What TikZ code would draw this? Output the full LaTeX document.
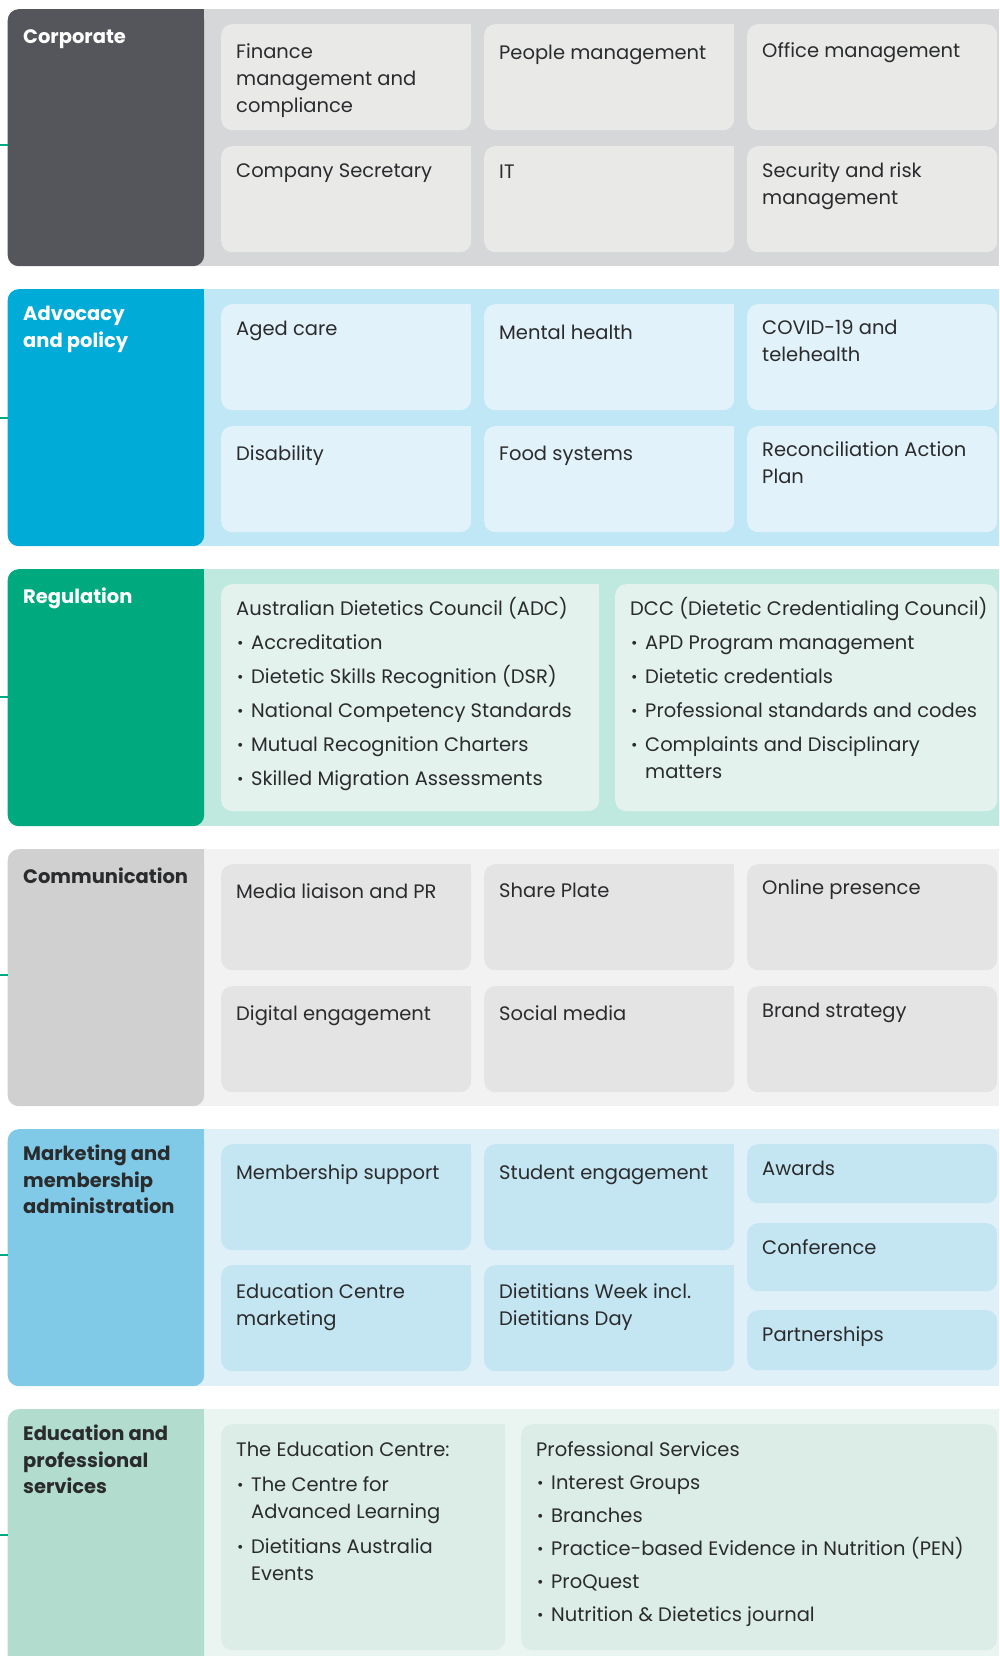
\documentclass[tikz,border=0pt]{standalone}
\usepackage{fontspec}
\setmainfont{Poppins}
\usepackage{graphicx}

\definecolor{ink}{HTML}{2A2B2D}
\definecolor{stubline}{HTML}{00A884}
\definecolor{corhead}{HTML}{55565B}
\definecolor{corpanel}{HTML}{D6D7D9}
\definecolor{cortile}{HTML}{E9EAE8}
\definecolor{advhead}{HTML}{00ABD8}
\definecolor{advpanel}{HTML}{BFE7F5}
\definecolor{advtile}{HTML}{E2F2FA}
\definecolor{reghead}{HTML}{00A97E}
\definecolor{regpanel}{HTML}{BFE8DF}
\definecolor{regtile}{HTML}{E4F2EE}
\definecolor{comhead}{HTML}{D0D0D0}
\definecolor{companel}{HTML}{F2F2F2}
\definecolor{comtile}{HTML}{E4E4E4}
\definecolor{mkthead}{HTML}{80CAE8}
\definecolor{mktpanel}{HTML}{DFF0F8}
\definecolor{mkttile}{HTML}{C4E5F2}
\definecolor{eduhead}{HTML}{B2DCCE}
\definecolor{edupanel}{HTML}{EAF5F2}
\definecolor{edutile}{HTML}{DCEDE7}

\newcommand{\dotitem}{\makebox[15pt][l]{\hspace{1pt}\raisebox{1pt}{\scalebox{0.8}{\textbullet}}}}

\begin{document}
\begin{tikzpicture}[x=1pt,y=-1pt,
	tile/.style={fill=#1, rounded corners=11pt, inner sep=0pt, anchor=north west},
	leaf/.style={tile=#1, append after command={\pgfextra{\fill[#1, sharp corners] (\tikzlastnode.north east) rectangle ++(-11pt,-11pt);}}},
	cell/.style={minimum width=250pt, minimum height=106pt},
	side/.style={minimum width=196.5pt, minimum height=257pt},
	head/.style={anchor=north west, yshift=18pt, inner sep=0pt, align=left, execute at begin node={\rule{0pt}{18pt}}, font=\bfseries\fontsize{19.5}{26.5}\selectfont},
	txt/.style={anchor=north west, yshift=18pt, inner sep=0pt, align=left, text=ink, execute at begin node={\rule{0pt}{18pt}}, font=\fontsize{19.5}{27}\selectfont},
	stub/.style={draw=stubline, line width=1.6pt}]
	\useasboundingbox (0,0) rectangle (999,1656);

	% corporate
	\fill[corpanel] (150,9) rectangle (999,266);
	\node[leaf=corhead, side] (corp) at (7.5,9) {};
	\node[head, text=white] (corpt) at (23,43) {Corporate};
	\node[leaf=cortile, cell] (c1) at (221,24) {};
	\node[leaf=cortile, cell] (c2) at (484,24) {};
	\node[tile=cortile, cell] (c3) at (747,24) {};
	\node[leaf=cortile, cell] (c4) at (221,146) {};
	\node[leaf=cortile, cell] (c5) at (484,146) {};
	\node[tile=cortile, cell] (c6) at (747,146) {};
	\node[txt] (fin) at (236,61) {Finance\\management and\\compliance};
	\node[txt] (people) at (499,59) {People management};
	\node[txt] (office) at (762,57) {Office management};
	\node[txt] (cosec) at (236,177) {Company Secretary};
	\node[txt] (it) at (499,178) {IT};
	\node[txt] (secrisk) at (762,180) {Security and risk\\management};

	% advocacy
	\fill[advpanel] (150,289) rectangle (999,546);
	\node[leaf=advhead, side] (adv) at (7.5,289) {};
	\node[head, text=white] (advt) at (23,324) {Advocacy\\and policy};
	\node[leaf=advtile, cell] (a1) at (221,304) {};
	\node[leaf=advtile, cell] (a2) at (484,304) {};
	\node[tile=advtile, cell] (a3) at (747,304) {};
	\node[leaf=advtile, cell] (a4) at (221,426) {};
	\node[leaf=advtile, cell] (a5) at (484,426) {};
	\node[tile=advtile, cell] (a6) at (747,426) {};
	\node[txt] (aged) at (236,335) {Aged care};
	\node[txt] (mental) at (499,339) {Mental health};
	\node[txt] (covid) at (762,338) {COVID-19 and\\telehealth};
	\node[txt] (disab) at (236,460) {Disability};
	\node[txt] (food) at (499,460) {Food systems};
	\node[txt] (rap) at (762,459) {Reconciliation Action\\Plan};

	% regulation
	\fill[regpanel] (150,569) rectangle (999,826);
	\node[leaf=reghead, side] (reg) at (7.5,569) {};
	\node[head, text=white] (regt) at (23,603) {Regulation};
	\node[leaf=regtile, minimum width=378pt, minimum height=227pt] (r1) at (221,584) {};
	\node[tile=regtile, minimum width=382pt, minimum height=227pt] (r2) at (615,584) {};
	\node[txt] (adc) at (236,615) {Australian Dietetics Council (ADC)\\[7pt]
		\dotitem Accreditation\\[7pt]
		\dotitem Dietetic Skills Recognition (DSR)\\[7pt]
		\dotitem National Competency Standards\\[7pt]
		\dotitem Mutual Recognition Charters\\[7pt]
		\dotitem Skilled Migration Assessments};
	\node[txt] (dcc) at (630,615) {DCC (Dietetic Credentialing Council)\\[7pt]
		\dotitem APD Program management\\[7pt]
		\dotitem Dietetic credentials\\[7pt]
		\dotitem Professional standards and codes\\[7pt]
		\dotitem Complaints and Disciplinary\\
		\hspace*{15pt}matters};

	% communication
	\fill[companel] (150,849) rectangle (999,1106);
	\node[leaf=comhead, side] (com) at (7.5,849) {};
	\node[head, text=ink] (comt) at (23,883) {Communication};
	\node[leaf=comtile, cell] (m1) at (221,864) {};
	\node[leaf=comtile, cell] (m2) at (484,864) {};
	\node[tile=comtile, cell] (m3) at (747,864) {};
	\node[leaf=comtile, cell] (m4) at (221,986) {};
	\node[leaf=comtile, cell] (m5) at (484,986) {};
	\node[tile=comtile, cell] (m6) at (747,986) {};
	\node[txt] (media) at (236,898) {Media liaison and PR};
	\node[txt] (share) at (499,897) {Share Plate};
	\node[txt] (online) at (762,894) {Online presence};
	\node[txt] (digital) at (236,1020) {Digital engagement};
	\node[txt] (social) at (499,1020) {Social media};
	\node[txt] (brand) at (762,1017) {Brand strategy};

	% marketing and membership
	\fill[mktpanel] (150,1129) rectangle (999,1386);
	\node[leaf=mkthead, side] (mkt) at (7.5,1129) {};
	\node[head, text=ink] (mktt) at (23,1163) {Marketing and\\membership\\administration};
	\node[leaf=mkttile, cell] (k1) at (221,1144) {};
	\node[leaf=mkttile, cell] (k2) at (484,1144) {};
	\node[leaf=mkttile, cell] (k4) at (221,1265) {};
	\node[leaf=mkttile, cell] (k5) at (484,1265) {};
	\node[tile=mkttile, minimum width=250pt, minimum height=59pt] (k3) at (747,1144) {};
	\node[tile=mkttile, minimum width=250pt, minimum height=68pt] (k6) at (747,1223) {};
	\node[tile=mkttile, minimum width=250pt, minimum height=60pt] (k7) at (747,1310) {};
	\node[txt] (member) at (236,1179) {Membership support};
	\node[txt] (student) at (499,1179) {Student engagement};
	\node[txt] (awards) at (762,1175) {Awards};
	\node[txt] (edmkt) at (236,1301) {Education Centre\\marketing};
	\node[txt] (dweek) at (499,1301) {Dietitians Week incl.\\Dietitians Day};
	\node[txt] (conf) at (762,1254) {Conference};
	\node[txt] (partner) at (762,1341) {Partnerships};

	% education and professional services
	\fill[edupanel] (150,1409) rectangle (999,1666);
	\node[leaf=eduhead, side] (edu) at (7.5,1409) {};
	\node[head, text=ink] (edut) at (23,1443) {Education and\\professional\\services};
	\node[leaf=edutile, minimum width=284pt, minimum height=226pt] (e1) at (221,1424) {};
	\node[tile=edutile, minimum width=476pt, minimum height=226pt] (e2) at (521,1424) {};
	\node[txt] (edc) at (236,1459) {The Education Centre:\\[8pt]
		\dotitem The Centre for\\
		\hspace*{15pt}Advanced Learning\\[8pt]
		\dotitem Dietitians Australia\\
		\hspace*{15pt}Events};
	\node[txt] (prof) at (536,1459) {Professional Services\\[6pt]
		\dotitem Interest Groups\\[6pt]
		\dotitem Branches\\[6pt]
		\dotitem Practice-based Evidence in Nutrition (PEN)\\[6pt]
		\dotitem ProQuest\\[6pt]
		\dotitem Nutrition \& Dietetics journal};

	% stubs of the links coming in from the left
	\coordinate (corpin) at (0,145);
	\coordinate (advin) at (0,418);
	\coordinate (regin) at (0,697);
	\coordinate (comin) at (0,975);
	\coordinate (mktin) at (0,1255);
	\coordinate (eduin) at (0,1535);
	\draw[stub] (corpin) -- (corpin -| corp.west);
	\draw[stub] (advin) -- (advin -| adv.west);
	\draw[stub] (regin) -- (regin -| reg.west);
	\draw[stub] (comin) -- (comin -| com.west);
	\draw[stub] (mktin) -- (mktin -| mkt.west);
	\draw[stub] (eduin) -- (eduin -| edu.west);
\end{tikzpicture}
\end{document}
